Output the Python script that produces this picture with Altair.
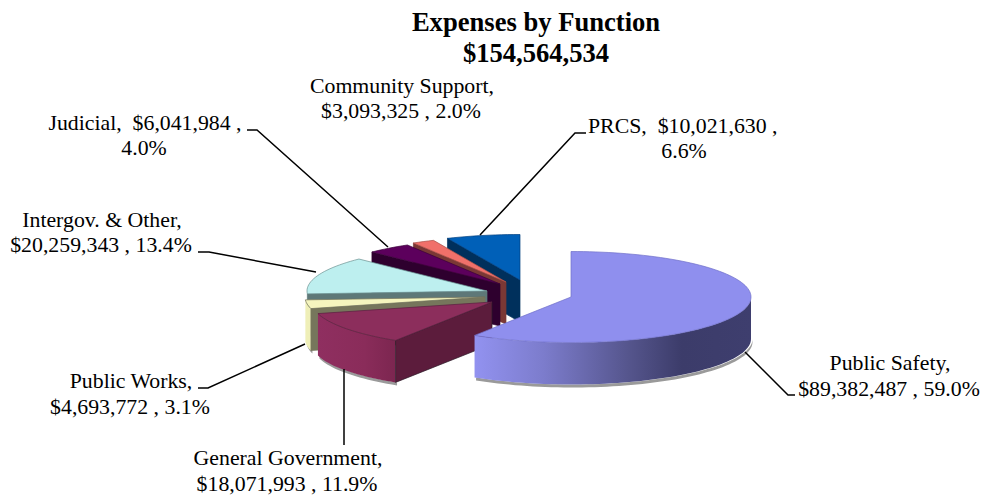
import math
import altair as alt
import pandas as pd

# ---- data ----
functions = ["Public Safety", "General Government", "Public Works", "Intergov. & Other",
             "Judicial", "Community Support", "PRCS"]
amounts = [89382487, 18071993, 4693772, 20259343, 6041984, 3093325, 10021630]
shares = [59.0, 11.9, 3.1, 13.4, 4.0, 2.0, 6.6]

top_colors = ["#8F8FEE", "#8C2E5C", "#F5F5BE", "#BDEFEF", "#5C005C", "#F0706A", "#0060B8"]
edge_colors = ["#7070C8", "#5A2040", "#70705A", "#6A9090", "#3A003A", "#A85048", "#003F80"]
cut_colors = ["#3C3C6C", "#5C1C3C", "#76765C", "#5E7878", "#2E002E", "#7A3835", "#00305C"]
side_stops = [
    [("#9292F0", 0), ("#7C7CCC", 0.25), ("#56568E", 0.55), ("#3C3C6A", 0.75), ("#3E3E6E", 1)],
    [("#8F2F60", 0), ("#8A2C5A", 0.6), ("#7C2650", 1)],
    [("#EFEFB8", 0), ("#EFEFB8", 1)],
    [("#B5E5E5", 0), ("#B5E5E5", 1)],
    [("#5C005C", 0), ("#5C005C", 1)],
    [("#F0706A", 0), ("#F0706A", 1)],
    [("#0060B8", 0), ("#0060B8", 1)],
]
# exploded position of each slice apex on the page
apex_x = [571, 492, 485, 487, 500, 506, 520]
apex_y = [297, 302, 297, 291, 284, 282, 280]
RX, RY, DEPTH = 180, 45.5, 42

title_lines = [("Expenses by Function", 536, 31), ("$154,564,534", 536, 62)]
label_text = ["Community Support,", "$3,093,325 , 2.0%",
              "Judicial,\u00a0 $6,041,984 ,", "4.0%",
              "Intergov. & Other,", "$20,259,343 , 13.4%",
              "Public Works,", "$4,693,772 , 3.1%",
              "General Government,", "$18,071,993 , 11.9%",
              "Public Safety,", "$89,382,487 , 59.0%",
              "6.6%"]
label_x = [402, 401, 145, 144, 102, 101, 131, 130, 288, 287, 890, 889, 684]
label_y = [93, 118, 130, 155, 227, 252, 388, 414, 465, 491, 370, 396, 158]
prcs_line = ("PRCS,\u00a0 $10,021,630 ,", 588, 133)

leader_id = [0, 0, 0, 1, 1, 1, 2, 2, 2, 3, 3, 4, 4, 4, 5, 5, 5]
leader_x = [247, 257, 388, 198, 209, 316, 198, 208, 305, 344, 344, 745, 788, 795, 586, 575, 480]
leader_y = [130, 130, 247, 252, 252, 272, 388, 388, 344, 369, 445, 352, 395, 395, 133, 133, 235]

# ---- slices are derived from the shares ----
total = sum(shares)
bounds = [0]
for s in shares:
    bounds.append(bounds[-1] + s / total * 360)


def at(cx, cy, th, dy=0.0):
    r = math.radians(th)
    return [cx + RX * math.sin(r), cy - RY * math.cos(r) + dy]


def arc(cx, cy, a, b, dy=0.0):
    n = max(2, int(abs(b - a) / 2) + 1)
    return [at(cx, cy, a + (b - a) * i / n, dy) for i in range(n + 1)]


def shape(points):
    ring = [list(p) for p in points] + [list(points[0])]
    return {"type": "Feature", "properties": {},
            "geometry": {"type": "Polygon", "coordinates": [ring]}}


def face(points, fill, stroke=None):
    d = alt.Data(values=[shape(points)])
    kw = {"fill": fill, "strokeWidth": 0}
    if stroke:
        kw = {"fill": fill, "stroke": stroke, "strokeWidth": 0.7}
    return alt.Chart(d).mark_geoshape(**kw).project(**{
        "type": "identity", "scale": 1, "translate": [-8, -8]})


layers = []
for i in reversed(range(len(functions))):
    a, b = bounds[i], bounds[i + 1]
    cx, cy = apex_x[i], apex_y[i]
    lo, hi = max(a, 90), min(b, 270)
    if hi > lo:
        front = arc(cx, cy, lo, hi)
        back = arc(cx, cy, hi, lo, DEPTH)
        shadow = [[p[0] + 1.5, p[1] + 3] for p in back] + [[p[0] + 1.5, p[1]] for p in back[::-1]]
        layers.append(face(shadow, "#9A9A9A"))
        grad = alt.LinearGradient(
            gradient="linear", x1=0, x2=1, y1=0, y2=0,
            stops=[alt.GradientStop(color=c, offset=o) for c, o in side_stops[i]])
        layers.append(face(front + back, grad))
    if i != 0:
        o = at(cx, cy, a)
        cut = [[cx, cy], o, [o[0], o[1] + DEPTH], [cx, cy + DEPTH]]
        layers.append(face(cut, cut_colors[i], "#2A1A26" if i == 1 else cut_colors[i]))
    layers.append(face([[cx, cy]] + arc(cx, cy, a, b), top_colors[i], edge_colors[i]))

X = alt.Scale(domain=[8, 980], range=[0, 972])
Y = alt.Scale(domain=[8, 496], range=[0, 488])


def text_layer(t, x, y, align, size, weight="normal"):
    return (
        alt.Chart(pd.DataFrame({"t": t, "x": x, "y": y}))
        .mark_text(font="Liberation Serif", fontSize=size, fontWeight=weight, align=align,
                   baseline="alphabetic", color="#000000")
        .encode(x=alt.X("x:Q", scale=X, axis=None), y=alt.Y("y:Q", scale=Y, axis=None),
                text="t:N")
    )


leaders = (
    alt.Chart(pd.DataFrame({"id": leader_id, "x": leader_x, "y": leader_y,
                            "o": range(len(leader_x))}))
    .mark_line(color="#000000", strokeWidth=1.5)
    .encode(x=alt.X("x:Q", scale=X, axis=None), y=alt.Y("y:Q", scale=Y, axis=None),
            detail="id:N", order="o:Q")
)
labels = text_layer(label_text, label_x, label_y, "center", 21.8)
prcs = text_layer([prcs_line[0]], [prcs_line[1]], [prcs_line[2]], "left", 21.8)
title = text_layer([t[0] for t in title_lines], [t[1] for t in title_lines],
                   [t[2] for t in title_lines], "center", 26.6, "bold")

chart = (
    alt.layer(*layers, leaders, labels, prcs, title)
    .properties(width=972, height=488, padding=0,
                autosize=alt.AutoSizeParams(type="none"), background="white")
    .configure_view(stroke=None)
)
chart.save("out.html", embed_options={"renderer": "svg", "actions": False})
